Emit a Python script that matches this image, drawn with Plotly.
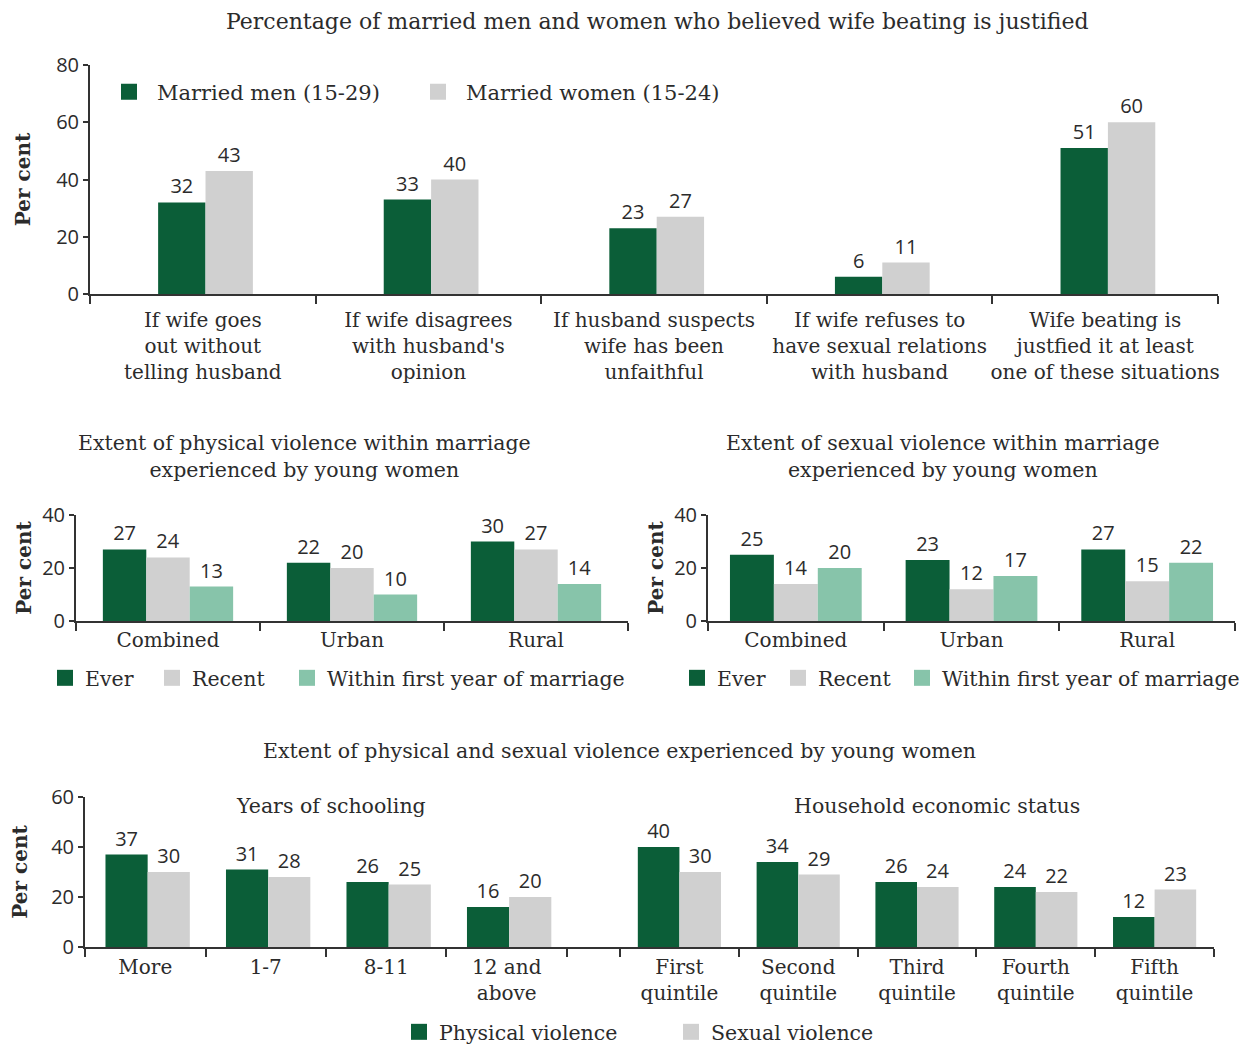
import plotly.graph_objects as go

# ---------------- data ----------------
attitude_labels = [
    "If wife goes<br>out without<br>telling husband",
    "If wife disagrees<br>with husband's<br>opinion",
    "If husband suspects<br>wife has been<br>unfaithful",
    "If wife refuses to<br>have sexual relations<br>with husband",
    "Wife beating is<br>justfied it at least<br>one of these situations",
]
men_justify = [32, 33, 23, 6, 51]
women_justify = [43, 40, 27, 11, 60]

residence_labels = ["Combined", "Urban", "Rural"]
physical_ever = [27, 22, 30]
physical_recent = [24, 20, 27]
physical_first_year = [13, 10, 14]
sexual_ever = [25, 23, 27]
sexual_recent = [14, 12, 15]
sexual_first_year = [20, 17, 22]

schooling_labels = ["More", "1-7", "8-11", "12 and<br>above"]
schooling_physical = [37, 31, 26, 16]
schooling_sexual = [30, 28, 25, 20]

wealth_labels = ["First<br>quintile", "Second<br>quintile", "Third<br>quintile",
                 "Fourth<br>quintile", "Fifth<br>quintile"]
wealth_physical = [40, 34, 26, 24, 12]
wealth_sexual = [30, 29, 24, 22, 23]

# ---------------- style ----------------
W, H = 1245, 1044
DARK = "#0b5e38"
GREY = "#d0d0d0"
MINT = "#87c4aa"
INK = "#2b2b2b"
SERIF = "DejaVu Serif"
SANS = "Open Sans"


def fx(px):
    return px / W


def fy(py):
    return 1 - py / H


fig = go.Figure()


def bars(x, y, color, xa, ya, width, offset):
    fig.add_trace(go.Bar(
        x=x, y=y, xaxis=xa, yaxis=ya,
        width=width, offset=offset,
        marker=dict(color=color, line=dict(width=0)),
        text=y, texttemplate="%{y}", textposition="outside",
        textfont=dict(family=SANS, size=20, color=INK),
        cliponaxis=False, showlegend=False, hoverinfo="x+y",
    ))


def key(name, color, legend, xa, ya):
    fig.add_trace(go.Scatter(
        x=[None], y=[None], xaxis=xa, yaxis=ya, mode="markers",
        marker=dict(symbol="square", size=17, color=color),
        name=name, legend=legend, showlegend=True, hoverinfo="skip",
    ))


# Panel 1: attitudes
w1 = 0.21
bars(attitude_labels, men_justify, DARK, "x", "y", w1, -w1 + 0.012)
bars(attitude_labels, women_justify, GREY, "x", "y", w1, 0.012)

# Panel 2: physical violence
w2 = 0.236
bars(residence_labels, physical_ever, DARK, "x2", "y2", w2, -1.5 * w2)
bars(residence_labels, physical_recent, GREY, "x2", "y2", w2, -0.5 * w2)
bars(residence_labels, physical_first_year, MINT, "x2", "y2", w2, 0.5 * w2)

# Panel 3: sexual violence
w3 = 0.25
bars(residence_labels, sexual_ever, DARK, "x3", "y3", w3, -1.5 * w3)
bars(residence_labels, sexual_recent, GREY, "x3", "y3", w3, -0.5 * w3)
bars(residence_labels, sexual_first_year, MINT, "x3", "y3", w3, 0.5 * w3)

# Panel 4: by schooling and by wealth (shared y axis)
w4 = 0.35
bars(schooling_labels, schooling_physical, DARK, "x4", "y4", w4, -w4 + 0.02)
bars(schooling_labels, schooling_sexual, GREY, "x4", "y4", w4, 0.02)
bars(wealth_labels, wealth_physical, DARK, "x5", "y4", w4, -w4)
bars(wealth_labels, wealth_sexual, GREY, "x5", "y4", w4, 0)

# Legend keys
key("Married men (15-29)", DARK, "legend", "x", "y")
key("Married women (15-24)", GREY, "legend2", "x", "y")
key("Ever", DARK, "legend3", "x2", "y2")
key("Recent", GREY, "legend4", "x2", "y2")
key("Within first year of marriage", MINT, "legend5", "x2", "y2")
key("Ever", DARK, "legend6", "x3", "y3")
key("Recent", GREY, "legend7", "x3", "y3")
key("Within first year of marriage", MINT, "legend8", "x3", "y3")
key("Physical violence", DARK, "legend9", "x4", "y4")
key("Sexual violence", GREY, "legend10", "x4", "y4")

# ---------------- axes ----------------
axis_line = dict(showline=True, linecolor="#333", linewidth=2, showgrid=False,
                 zeroline=False, fixedrange=True, automargin=False)


def xcat(domain, anchor, rng, standoff):
    return dict(**axis_line, domain=domain, anchor=anchor, type="category",
                range=rng, ticks="outside", tickson="boundaries", ticklen=8,
                tickwidth=1.5, tickcolor="#333", ticklabelstandoff=standoff,
                tickangle=0,
                tickfont=dict(family=SERIF, size=20, color=INK))


def yval(domain, anchor, top, title_standoff):
    return dict(**axis_line, domain=domain, anchor=anchor, range=[0, top],
                dtick=20, ticks="outside", ticklen=5, tickwidth=1.5,
                tickcolor="#333", tickfont=dict(family=SANS, size=20, color=INK),
                title=dict(text="Per cent", standoff=title_standoff,
                           font=dict(family=SERIF, size=20, color=INK, weight="bold")))


fig.update_layout(
    xaxis=xcat([fx(90), fx(1218)], "y", [-0.5, 4.5], 7),
    yaxis=yval([fy(294), fy(65)], "x", 80, 20),
    xaxis2=xcat([fx(76), fx(628)], "y2", [-0.5, 2.5], 0),
    yaxis2=yval([fy(621), fy(515)], "x2", 40, 5),
    xaxis3=xcat([fx(708), fx(1235)], "y3", [-0.5, 2.5], 0),
    yaxis3=yval([fy(621), fy(515)], "x3", 40, 5),
    xaxis4=xcat([fx(85), fx(620)], "y4", [-0.5, 3.94], 1),
    yaxis4=yval([fy(947), fy(797)], "x4", 60, 18),
    xaxis5=xcat([fx(620), fx(1214)], "y4", [-0.5, 4.5], 1),
    barmode="overlay",
    width=W, height=H,
    margin=dict(l=0, r=0, t=0, b=0, autoexpand=False),
    paper_bgcolor="white", plot_bgcolor="rgba(0,0,0,0)",
    font=dict(family=SERIF, size=20, color=INK),
)

# Legends, one per key so each sits where it belongs:
# (key centre x, centre y, symbol slot width, font size)
legend_spots = {
    "legend": (129, 92, 46, 21), "legend2": (438, 92, 46, 21),
    "legend3": (65, 678, 30, 20.5), "legend4": (172, 678, 30, 20.5),
    "legend5": (307, 678, 30, 20.5),
    "legend6": (697, 678, 30, 20.5), "legend7": (798, 678, 30, 20.5),
    "legend8": (922, 678, 30, 20.5),
    "legend9": (419, 1032, 30, 20.5), "legend10": (691, 1032, 30, 20.5),
}
for name, (cx, cy, slot, size) in legend_spots.items():
    fig.update_layout({name: dict(
        x=fx(cx - 5 - slot / 2), y=fy(cy), xanchor="left", yanchor="middle",
        orientation="h", bgcolor="rgba(0,0,0,0)", borderwidth=0,
        itemwidth=slot, font=dict(family=SERIF, size=size, color=INK),
        itemclick=False, itemdoubleclick=False,
    )})

# Titles
titles = [
    ("Percentage of married men and women who believed wife beating is justified", 657, 22, 22),
    ("Extent of physical violence within marriage<br>experienced by young women", 304, 456, 20.5),
    ("Extent of sexual violence within marriage<br>experienced by young women", 943, 456, 20.5),
    ("Extent of physical and sexual violence experienced by young women", 619, 751, 20.5),
    ("Years of schooling", 331, 806, 20.5),
    ("Household economic status", 937, 806, 20.5),
]
for text, cx, cy, size in titles:
    fig.add_annotation(text=text, x=fx(cx), y=fy(cy), xref="paper", yref="paper",
                       xanchor="center", yanchor="middle", showarrow=False,
                       font=dict(family=SERIF, size=size, color=INK))

fig.write_html("out.html")
